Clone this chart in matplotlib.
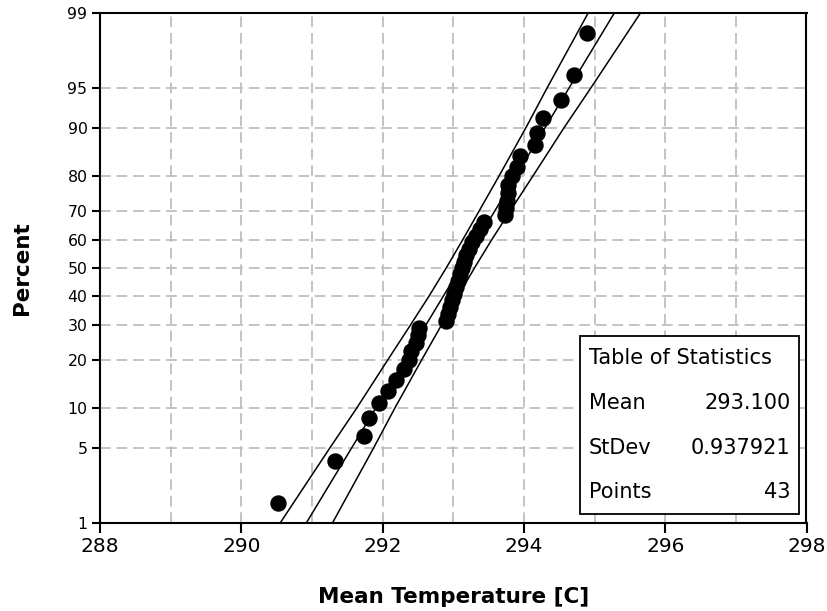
from statistics import NormalDist

import numpy as np
import matplotlib
matplotlib.use("Agg")
import matplotlib.pyplot as plt
from matplotlib.patches import Rectangle
from matplotlib.ticker import MultipleLocator, NullLocator

# sorted mean temperatures and their plotted percent positions
temps = [290.52, 291.33, 291.73, 291.81, 291.95, 292.08, 292.19, 292.30, 292.37,
         292.40, 292.47, 292.50, 292.52, 292.90, 292.93, 292.95, 292.98, 293.01,
         293.04, 293.07, 293.10, 293.12, 293.15, 293.18, 293.22, 293.27, 293.32,
         293.38, 293.43, 293.73, 293.74, 293.76, 293.77, 293.78, 293.83, 293.90,
         293.94, 294.16, 294.18, 294.27, 294.53, 294.71, 294.89]
percents = [1.61, 3.92, 6.22, 8.53, 10.83, 13.13, 15.44, 17.74, 20.05, 22.35,
            24.65, 26.96, 29.26, 31.57, 33.87, 36.18, 38.48, 40.78, 43.09, 45.39,
            47.70, 50.00, 52.30, 54.61, 56.91, 59.22, 61.52, 63.83, 66.13, 68.43,
            70.74, 73.04, 75.35, 77.65, 79.95, 82.26, 84.56, 86.87, 89.17, 91.47,
            93.78, 96.08, 98.39]

# fitted line and confidence band, read at these percent levels
fit_pct = [1, 99]
fit_x = [290.92, 295.28]
band_pct = [1, 5, 10, 20, 30, 40, 50, 60, 70, 80, 90, 95, 99]
band_lo = [290.55, 291.25, 291.63, 292.07, 292.39, 292.66, 292.90,
           293.13, 293.37, 293.65, 294.03, 294.33, 294.91]
band_hi = [291.29, 291.87, 292.17, 292.55, 292.83, 293.07, 293.30,
           293.54, 293.81, 294.13, 294.57, 294.95, 295.65]

y_ticks = [1, 5, 10, 20, 30, 40, 50, 60, 70, 80, 90, 95, 99]
x_ticks = [288, 290, 292, 294, 296, 298]

stats_rows = [("Mean", "293.100"), ("StDev", "0.937921"), ("Points", "43")]

nd = NormalDist()
_ppf = np.vectorize(nd.inv_cdf, otypes=[float])
_cdf = np.vectorize(nd.cdf, otypes=[float])


def prob_fwd(p):
    p = np.clip(np.asarray(p, dtype=float), 1e-6, 100 - 1e-6)
    return _ppf(p / 100.0)


def prob_inv(z):
    return _cdf(np.asarray(z, dtype=float)) * 100.0


plt.rcParams['font.family'] = 'DejaVu Sans'

fig = plt.figure(figsize=(8.28, 6.11), dpi=100)
ax = fig.add_axes([100 / 828, 88 / 611, 706.5 / 828, 510 / 611])
ax.set_yscale('function', functions=(prob_fwd, prob_inv))
ax.set_xlim(288, 298)
ax.set_ylim(1, 99)

ax.set_xticks(x_ticks)
ax.xaxis.set_minor_locator(MultipleLocator(1))
ax.set_yticks(y_ticks)
ax.set_yticklabels([str(t) for t in y_ticks])
ax.yaxis.set_minor_locator(NullLocator())

ax.grid(True, which='both', color='#c3c3c3', linewidth=1.4,
        linestyle=(0, (5.5, 3)), zorder=0)
ax.set_axisbelow(True)

ax.tick_params(axis='x', which='major', length=7, width=1.5, pad=3,
               labelsize=14.5, direction='out')
ax.tick_params(axis='x', which='minor', length=0)
ax.tick_params(axis='y', length=6, width=1.5, pad=3, labelsize=11.3,
               direction='out')
for sp in ax.spines.values():
    sp.set_linewidth(1.5)

ax.plot(band_lo, band_pct, color='black', lw=1.1, zorder=3)
ax.plot(band_hi, band_pct, color='black', lw=1.1, zorder=3)
ax.plot(fit_x, fit_pct, color='black', lw=1.1, zorder=3)
ax.plot(temps, percents, 'o', color='black', ms=10.8, zorder=4)

ax.set_xlabel('Mean Temperature [C]', fontsize=15.5, fontweight='bold')
ax.xaxis.set_label_coords(0.5, -0.125)
ax.set_ylabel('Percent', fontsize=15.5, fontweight='bold')
ax.yaxis.set_label_coords(-0.096, 0.5)

# statistics box in the lower right corner
ax.add_patch(Rectangle((0.679, 0.018), 0.31, 0.349, transform=ax.transAxes,
                       facecolor='white', edgecolor='black', lw=1.3, zorder=5))
ax.text(0.692, 0.324, 'Table of Statistics', transform=ax.transAxes,
        fontsize=15, va='center', ha='left', zorder=6)
for k, (name, val) in enumerate(stats_rows):
    yy = 0.235 - k * 0.087
    ax.text(0.692, yy, name, transform=ax.transAxes, fontsize=15,
            va='center', ha='left', zorder=6)
    ax.text(0.977, yy, val, transform=ax.transAxes, fontsize=15,
            va='center', ha='right', zorder=6)

fig.savefig('out.png', dpi=100)
